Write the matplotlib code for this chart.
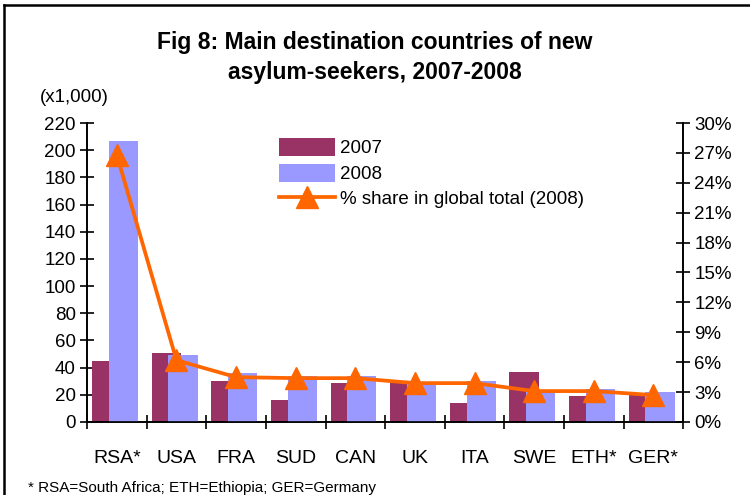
import numpy as np
import matplotlib
matplotlib.use("Agg")
import matplotlib.pyplot as plt
from matplotlib.lines import Line2D
from matplotlib.ticker import FuncFormatter

# Donnees
pays = ["RSA*", "USA", "FRA", "SUD", "CAN", "UK", "ITA", "SWE", "ETH*", "GER*"]
demandes_2007 = [45, 51, 30, 16, 29, 29, 14, 37, 19, 20]
demandes_2008 = [207, 49, 36, 34, 34, 29, 30, 22, 24, 22]
part_globale_2008 = [26.8, 6.2, 4.5, 4.4, 4.4, 3.9, 3.9, 3.1, 3.1, 2.7]

plt.rcParams["font.family"] = ["Liberation Sans", "DejaVu Sans"]

fig = plt.figure(figsize=(7.5, 4.95), dpi=100)
ax = fig.add_axes([0.116, 0.1475, 0.795, 0.604])
ax2 = ax.twinx()

x = np.arange(len(pays))
ax.bar(x - 0.17, demandes_2007, width=0.49, color="#993366", label="2007", zorder=2)
ax.bar(x + 0.11, demandes_2008, width=0.49, color="#9999FF", label="2008", zorder=3)
ax2.plot(x, part_globale_2008, color="#FF6600", lw=2.7, marker="^", markersize=16,
         label="% share in global total (2008)", zorder=5)

ax.set_xlim(-0.5, len(pays) - 0.5)
ax.set_ylim(0, 220)
ax.set_yticks(np.arange(0, 221, 20))
ax2.set_ylim(0, 30)
ax2.set_yticks(np.arange(0, 31, 3))
ax2.yaxis.set_major_formatter(FuncFormatter(lambda v, p: f"{v:.0f}%"))

ax.set_xticks(np.arange(len(pays) + 1) - 0.5)
ax.set_xticklabels([])
ax.set_xticks(x, minor=True)
ax.set_xticklabels(pays, minor=True)
ax.tick_params(axis="x", which="minor", length=0, pad=20, labelsize=14)
ax.tick_params(axis="x", which="major", direction="inout", length=10, width=1.2)
ax.tick_params(axis="y", direction="inout", length=10, width=1.2, labelsize=13.5, pad=3)
ax2.tick_params(axis="y", direction="inout", length=10, width=1.2, labelsize=13.5, pad=3)

for a in (ax, ax2):
    a.spines["top"].set_visible(False)
    for s in ("left", "right", "bottom"):
        a.spines[s].set_linewidth(1.2)
ax.set_zorder(ax2.get_zorder() - 1)
ax2.patch.set_visible(False)

h1, l1 = ax.get_legend_handles_labels()
h2, l2 = ax2.get_legend_handles_labels()
ax2.legend(h1 + h2, l1 + l2, loc="upper left", bbox_to_anchor=(0.31, 0.975),
           frameon=False, fontsize=13.5, handlelength=2.95, handleheight=1.1,
           labelspacing=0.33, handletextpad=0.3, borderaxespad=0)

fig.text(0.5, 0.915, "Fig 8: Main destination countries of new", ha="center",
         va="center", fontsize=16.5, fontweight="bold")
fig.text(0.5, 0.853, "asylum-seekers, 2007-2008", ha="center", va="center",
         fontsize=16.5, fontweight="bold")
fig.text(0.053, 0.803, "(x1,000)", ha="left", va="center", fontsize=13.5)
fig.text(0.037, 0.015, "* RSA=South Africa; ETH=Ethiopia; GER=Germany",
         ha="left", va="center", fontsize=11)

# cadre autour de la figure (gauche et haut)
fig.add_artist(Line2D([0.005, 0.005], [0.0, 0.99], color="black", lw=1.8))
fig.add_artist(Line2D([0.005, 1.0], [0.99, 0.99], color="black", lw=1.8))

fig.savefig("out.png", dpi=100)
